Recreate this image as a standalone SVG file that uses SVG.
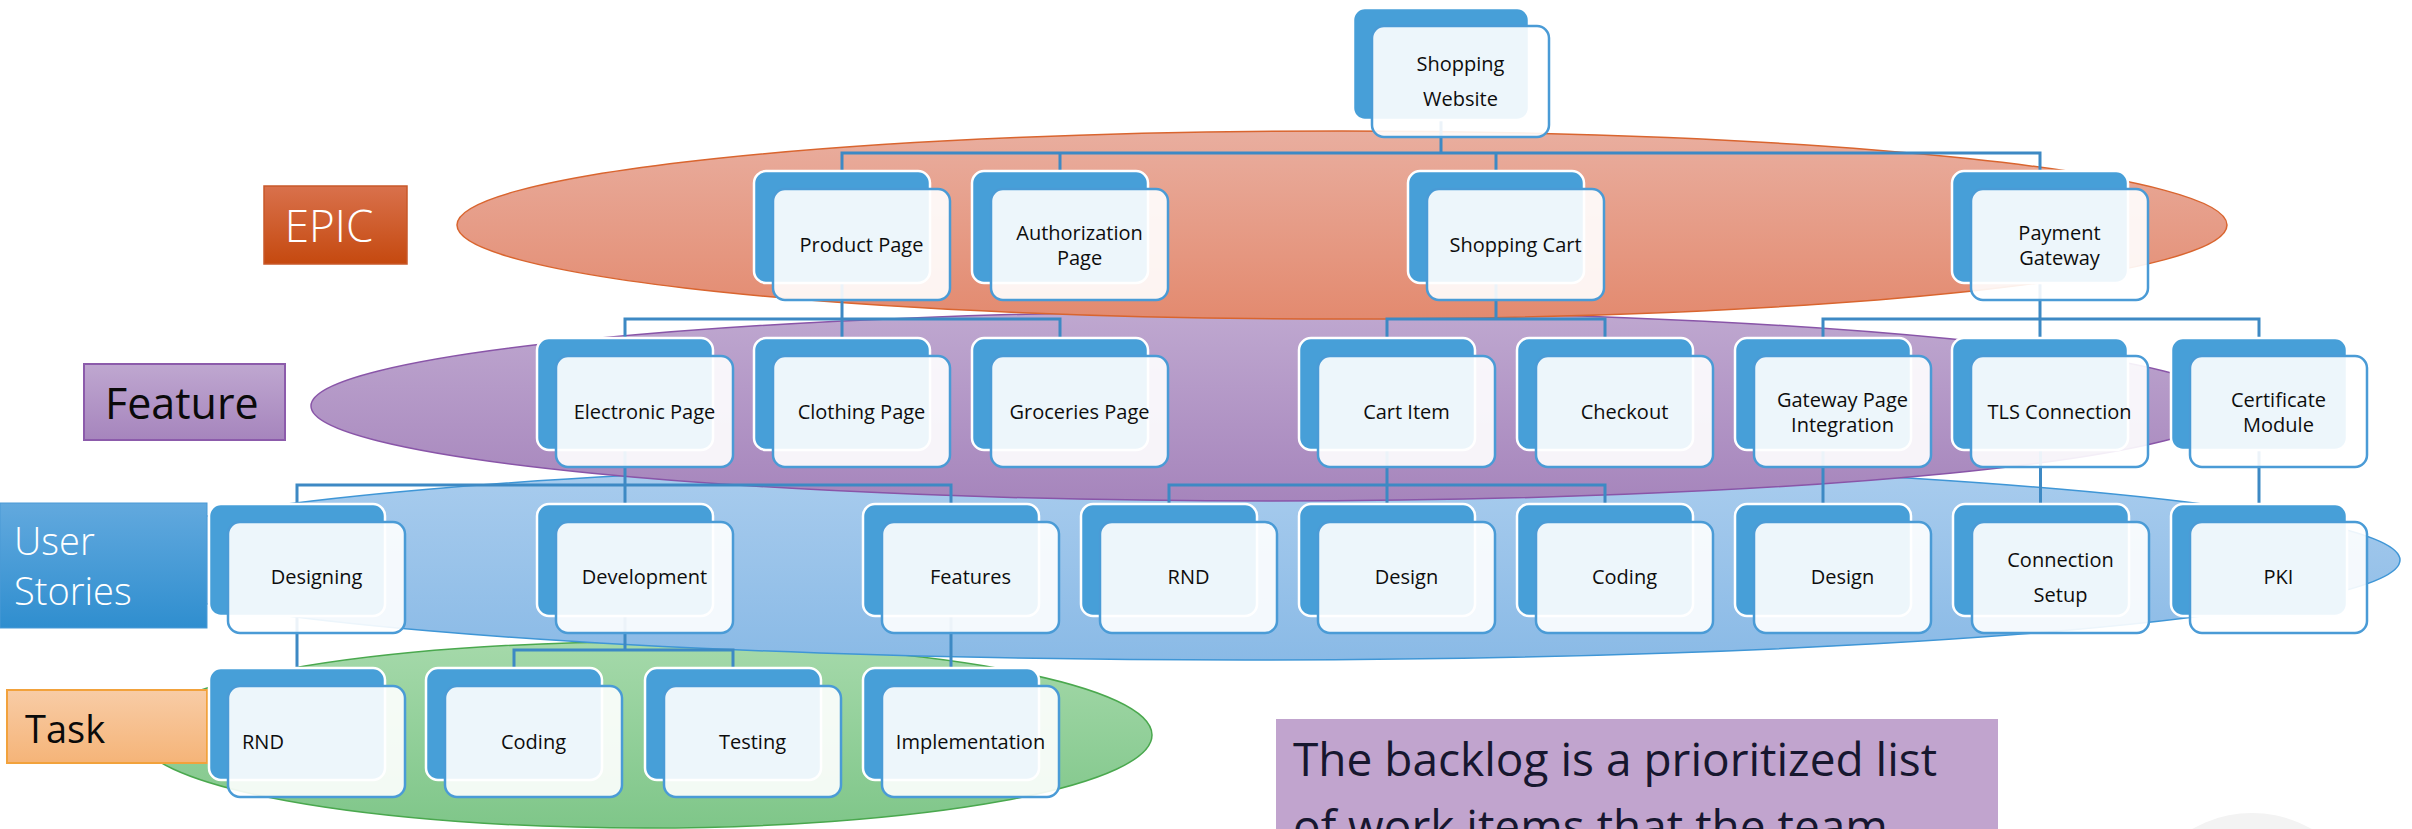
<svg xmlns="http://www.w3.org/2000/svg" width="2412" height="829" viewBox="0 0 2412 829">
<defs>
<linearGradient id="gEpic" x1="0" y1="0" x2="0" y2="1"><stop offset="0" stop-color="#e9ae9f"/><stop offset="1" stop-color="#e38a6f"/></linearGradient>
<linearGradient id="gFeat" x1="0" y1="0" x2="0" y2="1"><stop offset="0" stop-color="#bfa8d0"/><stop offset="1" stop-color="#a685bc"/></linearGradient>
<linearGradient id="gUser" x1="0" y1="0" x2="0" y2="1"><stop offset="0" stop-color="#aacdee"/><stop offset="1" stop-color="#8abae6"/></linearGradient>
<linearGradient id="gTask" x1="0" y1="0" x2="0" y2="1"><stop offset="0" stop-color="#a5d9aa"/><stop offset="1" stop-color="#7fc689"/></linearGradient>
<linearGradient id="lEpic" x1="0" y1="0" x2="0" y2="1"><stop offset="0" stop-color="#d9714c"/><stop offset="1" stop-color="#c5490f"/></linearGradient>
<linearGradient id="lFeat" x1="0" y1="0" x2="0" y2="1"><stop offset="0" stop-color="#bfa7d0"/><stop offset="1" stop-color="#a685bd"/></linearGradient>
<linearGradient id="lUser" x1="0" y1="0" x2="0" y2="1"><stop offset="0" stop-color="#62a9de"/><stop offset="1" stop-color="#2f8ecf"/></linearGradient>
<linearGradient id="lTask" x1="0" y1="0" x2="0" y2="1"><stop offset="0" stop-color="#f8cca6"/><stop offset="1" stop-color="#f5b478"/></linearGradient>
</defs>
<style>
.back{fill:#479fd8;stroke:#ffffff;stroke-width:2.5}
.front{fill:#ffffff;fill-opacity:0.9;stroke:#4a9bd6;stroke-width:2.5}
.t{font-family:"Open Sans","Noto Sans","DejaVu Sans",sans-serif;font-size:20px;fill:#0d0d0d;text-anchor:middle}
.conn{fill:none;stroke:#3d89c4;stroke-width:3}
.lbl{font-family:"Open Sans","Noto Sans","DejaVu Sans",sans-serif}
</style>
<rect x="0" y="0" width="2412" height="829" fill="#ffffff"/>
<circle cx="2252" cy="933" r="120" fill="#f3f3f3"/>

<g id="layers">
<ellipse id="layer-task" cx="645" cy="735" rx="507" ry="93" fill="url(#gTask)" stroke="#4aa84e" stroke-width="1.5"/>
<ellipse id="layer-user" cx="1245" cy="560" rx="1155" ry="100" fill="url(#gUser)" stroke="#3f96d6" stroke-width="1.5"/>
<ellipse id="layer-feature" cx="1271" cy="406" rx="960" ry="95" fill="url(#gFeat)" stroke="#8955a8" stroke-width="1.5"/>
<ellipse id="layer-epic" cx="1342" cy="225" rx="885" ry="94" fill="url(#gEpic)" stroke="#d9652f" stroke-width="1.5"/>
</g>

<g id="label-epic"><rect x="264" y="186" width="143" height="78" fill="url(#lEpic)" stroke="#c8582a" stroke-width="1.5"/><text class="lbl" x="329" y="242" font-size="44" font-weight="300" fill="#ffffff" text-anchor="middle">EPIC</text></g>
<g id="label-feature"><rect x="84" y="364" width="201" height="76" fill="url(#lFeat)" stroke="#8c5bab" stroke-width="2"/><text class="lbl" x="105" y="419" font-size="43" fill="#0a0a0a">Feature</text></g>
<g id="label-user"><rect x="0" y="503" width="207" height="125" fill="url(#lUser)" stroke="#4a9ad6" stroke-width="1"/><text class="lbl" x="14" y="555" font-size="38" font-weight="300" fill="#ffffff">User</text><text class="lbl" x="14" y="605" font-size="38" font-weight="300" fill="#ffffff">Stories</text></g>
<g id="label-task"><rect x="7" y="690" width="200" height="73" fill="url(#lTask)" stroke="#f2a23c" stroke-width="2"/><text class="lbl" x="25" y="743" font-size="38" fill="#0a0a0a">Task</text></g>
<g id="backlog-note"><rect x="1276" y="719" width="722" height="120" fill="#c1a4ce"/><text class="lbl" x="1293" y="776" font-size="46" fill="#17172f">The backlog is a prioritized list</text><text class="lbl" x="1293" y="843" font-size="46" fill="#17172f">of work items that the team</text></g>

<g id="connectors" class="conn">
<path d="M1441 120V153M842 171V153H2040V171M1060 153V171M1496 153V171"/>
<path d="M842 283V319M625 338V319H1060V338M842 319V338"/>
<path d="M1496 283V319M1387 338V319H1605V338"/>
<path d="M2040 283V319M1823 338V319H2259V338M2040 319V338"/>
<path d="M625 450V485M297 504V485H951V504M625 485V504"/>
<path d="M1387 450V485M1169 504V485H1605V504M1387 485V504"/>
<path d="M1823 450V504M2040.5 450V504M2259 450V504"/>
<path d="M297 616V668M625 616V650M514 668V650H733V668M951 616V668"/>
</g>

<g id="n-shopping-website"><rect class="back" x="1353" y="8" width="176" height="112" rx="12"/><rect class="front" x="1372" y="26" width="177" height="111" rx="12"/><text class="t" x="1460.5" y="71">Shopping</text><text class="t" x="1460.5" y="106">Website</text></g>

<g id="n-product-page"><rect class="back" x="754" y="171" width="176" height="112" rx="12"/><rect class="front" x="773" y="189" width="177" height="111" rx="12"/><text class="t" x="861.5" y="252">Product Page</text></g>
<g id="n-authorization-page"><rect class="back" x="972" y="171" width="176" height="112" rx="12"/><rect class="front" x="991" y="189" width="177" height="111" rx="12"/><text class="t" x="1079.5" y="240">Authorization</text><text class="t" x="1079.5" y="265">Page</text></g>
<g id="n-shopping-cart"><rect class="back" x="1408" y="171" width="176" height="112" rx="12"/><rect class="front" x="1427" y="189" width="177" height="111" rx="12"/><text class="t" x="1515.5" y="252">Shopping Cart</text></g>
<g id="n-payment-gateway"><rect class="back" x="1952" y="171" width="176" height="112" rx="12"/><rect class="front" x="1971" y="189" width="177" height="111" rx="12"/><text class="t" x="2059.5" y="240">Payment</text><text class="t" x="2059.5" y="265">Gateway</text></g>

<g id="n-electronic-page"><rect class="back" x="537" y="338" width="176" height="112" rx="12"/><rect class="front" x="556" y="356" width="177" height="111" rx="12"/><text class="t" x="644.5" y="419">Electronic Page</text></g>
<g id="n-clothing-page"><rect class="back" x="754" y="338" width="176" height="112" rx="12"/><rect class="front" x="773" y="356" width="177" height="111" rx="12"/><text class="t" x="861.5" y="419">Clothing Page</text></g>
<g id="n-groceries-page"><rect class="back" x="972" y="338" width="176" height="112" rx="12"/><rect class="front" x="991" y="356" width="177" height="111" rx="12"/><text class="t" x="1079.5" y="419">Groceries Page</text></g>
<g id="n-cart-item"><rect class="back" x="1299" y="338" width="176" height="112" rx="12"/><rect class="front" x="1318" y="356" width="177" height="111" rx="12"/><text class="t" x="1406.5" y="419">Cart Item</text></g>
<g id="n-checkout"><rect class="back" x="1517" y="338" width="176" height="112" rx="12"/><rect class="front" x="1536" y="356" width="177" height="111" rx="12"/><text class="t" x="1624.5" y="419">Checkout</text></g>
<g id="n-gateway-page-integration"><rect class="back" x="1735" y="338" width="176" height="112" rx="12"/><rect class="front" x="1754" y="356" width="177" height="111" rx="12"/><text class="t" x="1842.5" y="407">Gateway Page</text><text class="t" x="1842.5" y="432">Integration</text></g>
<g id="n-tls-connection"><rect class="back" x="1952" y="338" width="176" height="112" rx="12"/><rect class="front" x="1971" y="356" width="177" height="111" rx="12"/><text class="t" x="2059.5" y="419">TLS Connection</text></g>
<g id="n-certificate-module"><rect class="back" x="2171" y="338" width="176" height="112" rx="12"/><rect class="front" x="2190" y="356" width="177" height="111" rx="12"/><text class="t" x="2278.5" y="407">Certificate</text><text class="t" x="2278.5" y="432">Module</text></g>

<g id="n-designing"><rect class="back" x="209" y="504" width="176" height="112" rx="12"/><rect class="front" x="228" y="522" width="177" height="111" rx="12"/><text class="t" x="316.5" y="584">Designing</text></g>
<g id="n-development"><rect class="back" x="537" y="504" width="176" height="112" rx="12"/><rect class="front" x="556" y="522" width="177" height="111" rx="12"/><text class="t" x="644.5" y="584">Development</text></g>
<g id="n-features"><rect class="back" x="863" y="504" width="176" height="112" rx="12"/><rect class="front" x="882" y="522" width="177" height="111" rx="12"/><text class="t" x="970.5" y="584">Features</text></g>
<g id="n-rnd-story"><rect class="back" x="1081" y="504" width="176" height="112" rx="12"/><rect class="front" x="1100" y="522" width="177" height="111" rx="12"/><text class="t" x="1188.5" y="584">RND</text></g>
<g id="n-design-cart"><rect class="back" x="1299" y="504" width="176" height="112" rx="12"/><rect class="front" x="1318" y="522" width="177" height="111" rx="12"/><text class="t" x="1406.5" y="584">Design</text></g>
<g id="n-coding-cart"><rect class="back" x="1517" y="504" width="176" height="112" rx="12"/><rect class="front" x="1536" y="522" width="177" height="111" rx="12"/><text class="t" x="1624.5" y="584">Coding</text></g>
<g id="n-design-gateway"><rect class="back" x="1735" y="504" width="176" height="112" rx="12"/><rect class="front" x="1754" y="522" width="177" height="111" rx="12"/><text class="t" x="1842.5" y="584">Design</text></g>
<g id="n-connection-setup"><rect class="back" x="1953" y="504" width="176" height="112" rx="12"/><rect class="front" x="1972" y="522" width="177" height="111" rx="12"/><text class="t" x="2060.5" y="567">Connection</text><text class="t" x="2060.5" y="602">Setup</text></g>
<g id="n-pki"><rect class="back" x="2171" y="504" width="176" height="112" rx="12"/><rect class="front" x="2190" y="522" width="177" height="111" rx="12"/><text class="t" x="2278.5" y="584">PKI</text></g>

<g id="n-rnd-task"><rect class="back" x="209" y="668" width="176" height="112" rx="12"/><rect class="front" x="228" y="686" width="177" height="111" rx="12"/><text class="t" x="242" y="749" text-anchor="start" style="text-anchor:start">RND</text></g>
<g id="n-coding-task"><rect class="back" x="426" y="668" width="176" height="112" rx="12"/><rect class="front" x="445" y="686" width="177" height="111" rx="12"/><text class="t" x="533.5" y="749">Coding</text></g>
<g id="n-testing"><rect class="back" x="645" y="668" width="176" height="112" rx="12"/><rect class="front" x="664" y="686" width="177" height="111" rx="12"/><text class="t" x="752.5" y="749">Testing</text></g>
<g id="n-implementation"><rect class="back" x="863" y="668" width="176" height="112" rx="12"/><rect class="front" x="882" y="686" width="177" height="111" rx="12"/><text class="t" x="970.5" y="749">Implementation</text></g>
</svg>
